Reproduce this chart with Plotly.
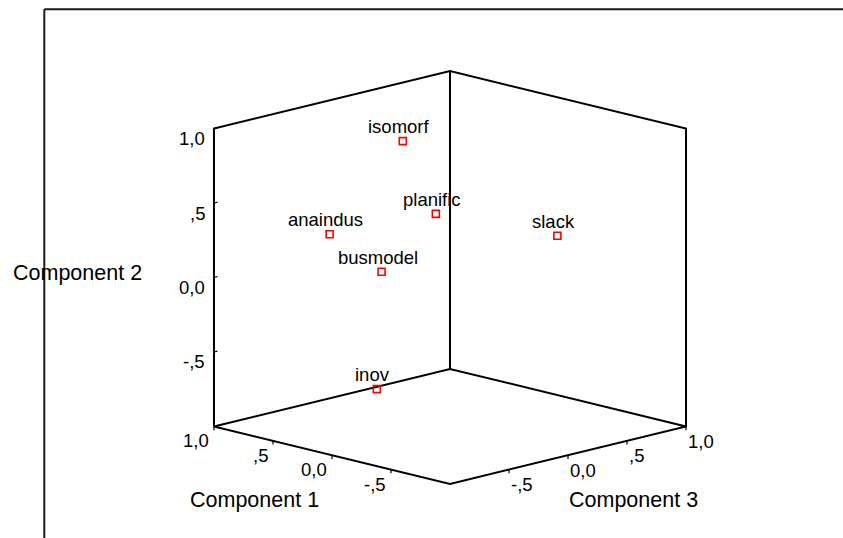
import math
import plotly.graph_objects as go

# Component loadings of each variable
variables = ["isomorf", "planific", "anaindus", "busmodel", "slack", "inov"]
component_1 = [0.50, 0.26, 0.90, 0.70, 0.05, 0.44]
component_2 = [0.80, 0.35, 0.14, -0.12, 0.085, -0.80]
component_3 = [0.10, 0.14, -0.12, 0.12, 0.96, -0.18]

# Shared axis settings
axis_range = [-1.0, 1.0]
tick_values = [-0.5, 0.0, 0.5, 1.0]
tick_labels = ["-,5", "0,0", ",5", "1,0"]
axis_titles = ["Component 1", "Component 2", "Component 3"]

FONT = "Arial, Liberation Sans, sans-serif"
W, H = 843, 538

# parallel projection of the 3-D loading space onto the page:
# viewed from 45 degrees between Component 1 and Component 3, slightly above
AZIM = math.radians(45)
ELEV = math.radians(14.1)
Z_ASPECT = 0.92


def project(c1, c2, c3):
    u = (c3 - c1) * math.cos(AZIM)
    v = c2 * Z_ASPECT * math.cos(ELEV) + (c1 + c3) * math.sin(AZIM) * math.sin(ELEV)
    return u, v


def project_path(points):
    xs, ys = [], []
    for p in points:
        if p is None:
            xs.append(None); ys.append(None)
        else:
            u, v = project(*p)
            xs.append(u); ys.append(v)
    return xs, ys


lo, hi = axis_range
fig = go.Figure()

# box frame: two back walls and the floor, corners as (c1, c2, c3)
left_bottom = (hi, lo, lo)
left_top = (hi, hi, lo)
back_top = (hi, hi, hi)
right_top = (lo, hi, hi)
right_bottom = (lo, lo, hi)
front_bottom = (lo, lo, lo)
back_bottom = (hi, lo, hi)
frame = [left_bottom, left_top, back_top, right_top, right_bottom,
         front_bottom, left_bottom, back_bottom, right_bottom,
         None, back_bottom, back_top]
fx, fy = project_path(frame)
fig.add_trace(go.Scatter(x=fx, y=fy, mode="lines",
                         line=dict(color="black", width=2),
                         hoverinfo="skip", showlegend=False))

# tick marks
ticks = []
for t in tick_values:
    ticks += [(hi, t, lo), (hi, t, lo + 0.03), None]      # Component 2
    ticks += [(t, lo, lo), (t, lo - 0.025, lo), None]     # Component 1
    ticks += [(lo, lo, t), (lo, lo - 0.025, t), None]     # Component 3
tkx, tky = project_path(ticks)
fig.add_trace(go.Scatter(x=tkx, y=tky, mode="lines",
                         line=dict(color="black", width=1.2),
                         hoverinfo="skip", showlegend=False))

# variable markers
px, py = zip(*[project(a, b, c) for a, b, c in zip(component_1, component_2, component_3)])
fig.add_trace(go.Scatter(x=px, y=py, mode="markers",
                         marker=dict(symbol="square-open", size=7, color="red",
                                     line=dict(color="red", width=1.6)),
                         hoverinfo="skip", showlegend=False))

text_font = dict(family=FONT, size=18.5, color="black")
annotations = []
for name, x, y in zip(variables, px, py):
    annotations.append(dict(x=x, y=y, text=name, showarrow=False,
                            xanchor="center", yanchor="middle",
                            xshift=-4, yshift=14.5, font=text_font))
for t, lab in zip(tick_values, tick_labels):
    x, y = project(hi, t, lo)
    annotations.append(dict(x=x, y=y, text=lab, showarrow=False,
                            xanchor="right", yanchor="middle",
                            xshift=-7, yshift=-10, font=text_font))
    x, y = project(t, lo, lo)
    annotations.append(dict(x=x, y=y, text=lab, showarrow=False,
                            xanchor="right", yanchor="middle",
                            xshift=-3, yshift=-14.5, font=text_font))
    x, y = project(lo, lo, t)
    annotations.append(dict(x=x, y=y, text=lab, showarrow=False,
                            xanchor="left", yanchor="middle",
                            xshift=0, yshift=-15, font=text_font))

title_font = dict(family=FONT, size=21.5, color="black")
for title, (ax_x, ax_y) in zip(axis_titles, [(254.7, 500), (77.7, 272.7), (633.8, 500)]):
    annotations.append(dict(x=ax_x / W, y=1 - ax_y / H, xref="paper", yref="paper",
                            text=title, showarrow=False,
                            xanchor="center", yanchor="middle", font=title_font))

# page scale: 166.9 px per projected unit, box centre at (450, 277.5)
SCALE = 166.9
CX, CY = 450, 277.5
hidden = dict(visible=False, showgrid=False, zeroline=False, fixedrange=True)

fig.update_layout(
    width=W, height=H,
    margin=dict(l=0, r=0, t=0, b=0),
    paper_bgcolor="white", plot_bgcolor="white",
    showlegend=False, hovermode=False,
    xaxis=dict(range=[-CX / SCALE, (W - CX) / SCALE], **hidden),
    yaxis=dict(range=[(CY - H) / SCALE, CY / SCALE], **hidden),
    annotations=annotations,
    shapes=[
        dict(type="line", xref="paper", yref="paper",
             x0=44.3 / W, x1=1.01, y0=1 - 9.3 / H, y1=1 - 9.3 / H,
             line=dict(color="#1a1a1a", width=2)),
        dict(type="line", xref="paper", yref="paper",
             x0=44.3 / W, x1=44.3 / W, y0=1 - 9.3 / H, y1=-0.01,
             line=dict(color="#1a1a1a", width=2)),
    ],
)

fig.write_html("out.html", config=dict(displayModeBar=False, staticPlot=True))
